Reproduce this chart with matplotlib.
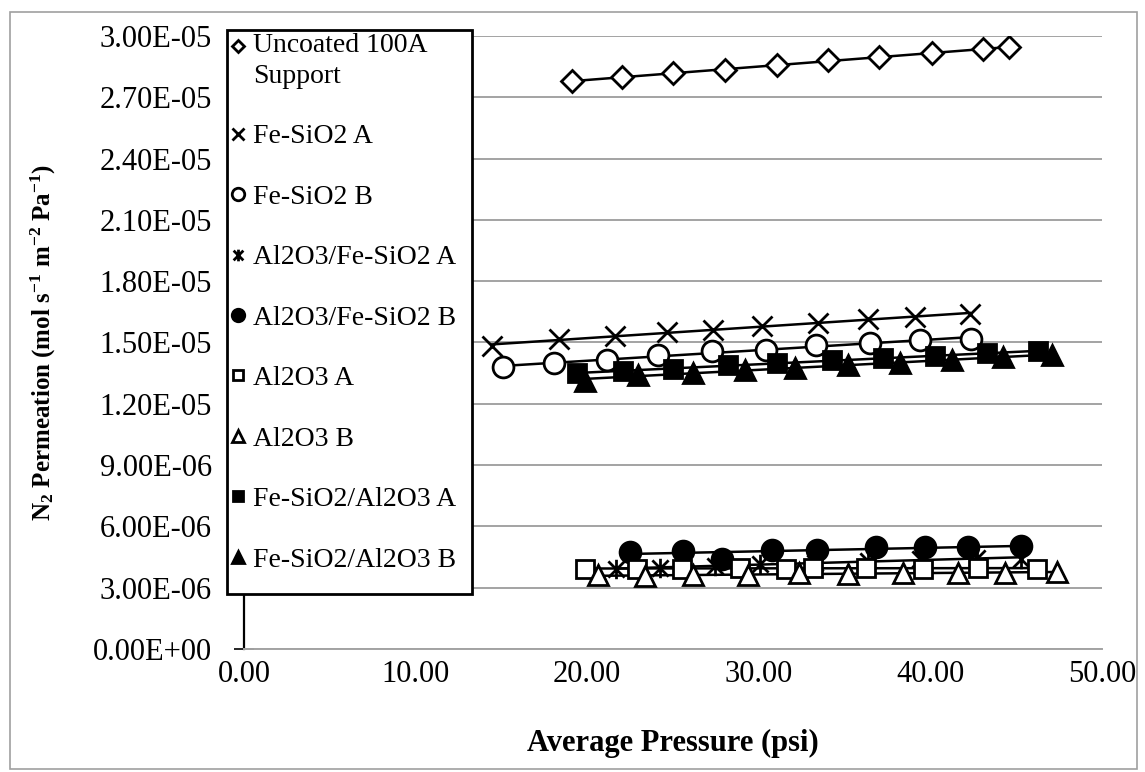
import numpy as np
import matplotlib
matplotlib.use("Agg")
import matplotlib.pyplot as plt
from matplotlib.path import Path
from matplotlib.patches import Rectangle
from matplotlib.legend_handler import HandlerLine2D
from matplotlib.ticker import FuncFormatter, MultipleLocator

plt.rcParams["font.family"] = ["Liberation Serif", "DejaVu Serif"]
plt.rcParams["mathtext.fontset"] = "custom"
plt.rcParams["mathtext.rm"] = "Liberation Serif:bold"
plt.rcParams["mathtext.bf"] = "Liberation Serif:bold"
plt.rcParams["mathtext.it"] = "Liberation Serif:bold"

# Average pressure (psi) and N2 permeation (1e-6 mol s-1 m-2 Pa-1) per membrane
uncoated_p = [19.13, 22.01, 25.02, 28.03, 31.08, 34.05, 37.02, 40.07, 43.08, 44.60]
uncoated_n = [27.78, 27.99, 28.20, 28.32, 28.57, 28.81, 28.98, 29.18, 29.34, 29.45]

fesio2_a_p = [14.43, 18.37, 21.62, 24.63, 27.34, 30.18, 33.47, 36.38, 39.10, 42.30]
fesio2_a_n = [14.81, 15.16, 15.34, 15.50, 15.62, 15.81, 15.95, 16.15, 16.25, 16.40]

fesio2_b_p = [15.08, 18.08, 21.13, 24.13, 27.30, 30.40, 33.33, 36.48, 39.39, 42.35]
fesio2_b_n = [13.78, 13.99, 14.12, 14.40, 14.56, 14.64, 14.89, 14.97, 15.10, 15.16]

al_fe_a_p = [21.68, 24.24, 27.45, 30.07, 33.27, 36.36, 39.39, 42.70, 45.31]
al_fe_a_n = [3.90, 3.98, 4.07, 4.15, 4.23, 4.31, 4.39, 4.46, 4.40]

al_fe_b_p = [22.49, 25.56, 27.84, 30.75, 33.38, 36.82, 39.68, 42.20, 45.31]
al_fe_b_n = [4.77, 4.80, 4.39, 4.85, 4.85, 4.97, 4.97, 4.97, 5.05]

al2o3_a_p = [19.87, 22.90, 25.52, 28.90, 31.58, 33.15, 36.25, 39.57, 42.78, 46.19]
al2o3_a_n = [3.93, 3.93, 3.93, 3.98, 3.93, 3.98, 3.98, 3.93, 3.98, 3.93]

al2o3_b_p = [20.63, 23.37, 26.18, 29.37, 32.36, 35.20, 38.40, 41.60, 44.34, 47.38]
al2o3_b_n = [3.60, 3.58, 3.62, 3.62, 3.70, 3.68, 3.72, 3.74, 3.74, 3.76]

fe_al_a_p = [19.38, 22.10, 25.01, 28.22, 31.04, 34.25, 37.25, 40.27, 43.28, 46.25]
fe_al_a_n = [13.51, 13.59, 13.70, 13.91, 13.99, 14.12, 14.24, 14.35, 14.48, 14.56]

fe_al_b_p = [19.87, 22.98, 26.18, 29.20, 32.11, 35.22, 38.23, 41.24, 44.21, 47.07]
fe_al_b_n = [13.12, 13.43, 13.51, 13.67, 13.75, 13.91, 13.99, 14.16, 14.29, 14.40]

labels = ["Uncoated 100A\nSupport", "Fe-SiO2 A", "Fe-SiO2 B", "Al2O3/Fe-SiO2 A",
          "Al2O3/Fe-SiO2 B", "Al2O3 A", "Al2O3 B", "Fe-SiO2/Al2O3 A", "Fe-SiO2/Al2O3 B"]

# Star marker: an x with a vertical bar through it
star = Path([(-1, -1), (1, 1), (-1, 1), (1, -1), (0, -1.2), (0, 1.2)],
            [Path.MOVETO, Path.LINETO, Path.MOVETO, Path.LINETO, Path.MOVETO, Path.LINETO])

series = [
    (uncoated_p, uncoated_n, dict(marker="D", ms=11, mfc="white")),
    (fesio2_a_p, fesio2_a_n, dict(marker="x", ms=14, mfc="none")),
    (fesio2_b_p, fesio2_b_n, dict(marker="o", ms=15, mfc="white")),
    (al_fe_a_p, al_fe_a_n, dict(marker=star, ms=14, mfc="none")),
    (al_fe_b_p, al_fe_b_n, dict(marker="o", ms=15, mfc="black")),
    (al2o3_a_p, al2o3_a_n, dict(marker="s", ms=13, mfc="white")),
    (al2o3_b_p, al2o3_b_n, dict(marker="^", ms=14, mfc="white")),
    (fe_al_a_p, fe_al_a_n, dict(marker="s", ms=13, mfc="black")),
    (fe_al_b_p, fe_al_b_n, dict(marker="^", ms=14, mfc="black")),
]


class FirstLineHandler(HandlerLine2D):
    """Places the legend marker level with the first line of a two-line label."""

    def __init__(self, shift, **kw):
        super().__init__(**kw)
        self.shift = shift

    def create_artists(self, legend, orig_handle, xdescent, ydescent, width,
                       height, fontsize, trans):
        artists = super().create_artists(legend, orig_handle, xdescent, ydescent,
                                         width, height, fontsize, trans)
        for a in artists:
            a.set_ydata(np.asarray(a.get_ydata(), dtype=float) + self.shift)
        return artists


fig = plt.figure(figsize=(11.45, 7.72), dpi=100)
ax = fig.add_axes([0.2131, 0.1593, 0.7493, 0.7941])

handles = []
for (p, n, style), lab in zip(series, labels):
    p = np.asarray(p)
    n = np.asarray(n) * 1e-6
    h, = ax.plot(p, n, linestyle="none", mec="black", mew=2.0, label=lab,
                 zorder=3, **style)
    handles.append(h)
    # linear trendline over the measured pressure range
    k, b = np.polyfit(p, n, 1)
    xs = np.array([p.min(), p.max()])
    ax.plot(xs, k * xs + b, color="black", lw=1.8, zorder=2)

ax.set_xlim(0, 50)
ax.set_ylim(0, 3.0e-5)
ax.xaxis.set_major_locator(MultipleLocator(10))
ax.yaxis.set_major_locator(MultipleLocator(3.0e-6))
ax.xaxis.set_major_formatter(FuncFormatter(lambda v, _: f"{v:.2f}"))
ax.yaxis.set_major_formatter(FuncFormatter(lambda v, _: f"{v:.2E}"))

ax.grid(axis="y", color="#a3a3a3", lw=1.4)
ax.set_axisbelow(True)
for side in ("top", "right"):
    ax.spines[side].set_visible(False)
ax.spines["left"].set_color("black")
ax.spines["left"].set_linewidth(1.6)
ax.spines["bottom"].set_color("#a3a3a3")
ax.spines["bottom"].set_linewidth(1.4)
ax.tick_params(axis="y", direction="inout", length=14, width=1.2, labelsize=22,
               pad=16, colors="black")
ax.tick_params(axis="x", direction="out", length=0, labelsize=22, pad=8)

ax.set_xlabel("Average Pressure (psi)", fontsize=22, fontweight="bold", labelpad=29)
ax.set_ylabel(r"N$_2$ Permeation (mol s$^{-1}$ m$^{-2}$ Pa$^{-1}$)", fontsize=18,
              fontweight="bold")
ax.yaxis.set_label_coords(-0.217, 0.5)

# legend box, drawn as its own white panel overlapping the axis
ax.add_patch(Rectangle((-0.0198, 0.0897), 0.2855, 0.9201, transform=ax.transAxes,
                       facecolor="white", edgecolor="black", lw=2.0, zorder=4,
                       clip_on=False))

leg = ax.legend(handles=handles, loc="upper left",
                bbox_to_anchor=(-0.0198, 0.0897, 0.2855, 0.9215), mode="expand",
                frameon=False, fontsize=20, handlelength=0.5,
                handletextpad=0.3, borderpad=0.15, labelspacing=1.26,
                borderaxespad=0, markerscale=0.6,
                handler_map={handles[0]: FirstLineHandler(shift=11)})
leg.set_zorder(5)
leg.get_texts()[0].set_linespacing(1.3)

# light outer border around the chart
fig.patches.append(Rectangle((0.009, 0.004), 0.984, 0.981, transform=fig.transFigure,
                             fill=False, edgecolor="#a0a0a0", lw=1.2))

fig.savefig("out.png", dpi=100, facecolor="white")
